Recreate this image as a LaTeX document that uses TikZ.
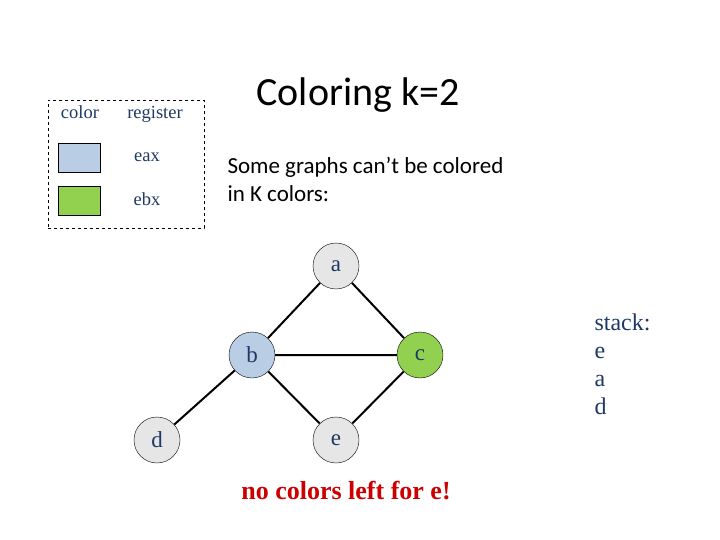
\documentclass[tikz,border=0pt]{standalone}
\usepackage{fontspec}
\setmainfont{Liberation Serif}
\newfontfamily\carlitofont{Carlito}
\definecolor{navy}{HTML}{1F3864}
\definecolor{nodegray}{HTML}{E6E6E6}
\definecolor{lblue}{HTML}{B9CDE5}
\definecolor{lgreen}{HTML}{92D050}
\begin{document}
\begin{tikzpicture}[x=1pt,y=-1pt,
  vert/.style={circle,draw=black,minimum size=46pt,inner sep=0pt,font=\fontsize{23}{23}\selectfont,text=navy},
  edge/.style={line width=2pt},
  lbl/.style={font=\fontsize{18.5}{18.5}\selectfont,text=navy,anchor=base},
  swatch/.style={draw=black,minimum width=42pt,minimum height=29pt,inner sep=0pt}]
\useasboundingbox (0,0) rectangle (720,540);
\node[draw,dashed,minimum width=156pt,minimum height=128pt,inner sep=0pt] (legend) at (126,164) {};
\node[lbl] (hc) at (80,119) {color};
\node[lbl] (hr) at (155,119) {register};
\node[swatch,fill=lblue] (s1) at (79,157.5) {};
\node[swatch,fill=lgreen] (s2) at (79,200.5) {};
\node[lbl] (t1) at (147,162) {eax};
\node[lbl] (t2) at (147,206) {ebx};
\node[font=\carlitofont\fontsize{40}{40}\selectfont] (title) at (358,95) {Coloring k=2};
\node[font=\carlitofont\fontsize{23}{28}\selectfont,align=left,anchor=north west] (desc) at (224,154) {Some graphs can’t be colored\\in K colors:};
\node[vert,fill=nodegray] (a) at (336,266) {a};
\node[vert,fill=lblue] (b) at (252,355) {b};
\node[vert,fill=lgreen] (c) at (420,355) {c};
\node[vert,fill=nodegray] (d) at (157,440) {d};
\node[vert,fill=nodegray] (e) at (336,440) {e};
\draw[edge] (a)--(b) (a)--(c) (b)--(c) (b)--(d) (b)--(e) (c)--(e);
\node[font=\bfseries\fontsize{26}{26}\selectfont,text=red!80!black] (msg) at (346,491) {no colors left for e!};
\node[font=\fontsize{24}{28}\selectfont,text=navy,align=left,anchor=north west] (stack) at (591,310) {stack:\\e\\a\\d};
\end{tikzpicture}
\end{document}
